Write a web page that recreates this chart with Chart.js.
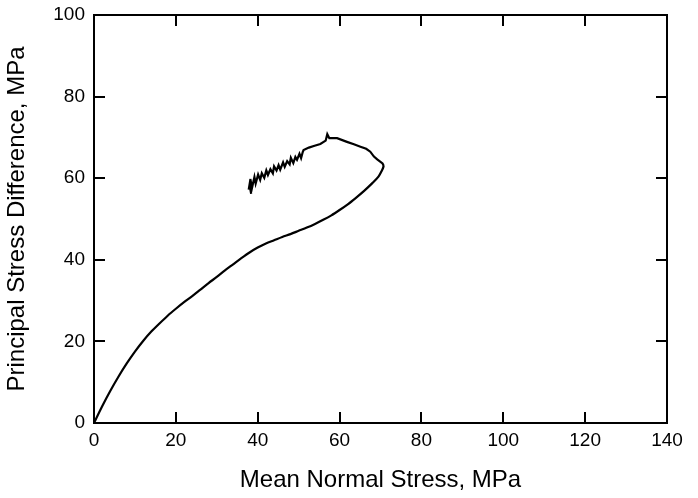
<!DOCTYPE html>
<html>
<head>
<meta charset="utf-8">
<script src="https://cdn.jsdelivr.net/npm/chart.js@4"></script>
<style>
  html, body { margin: 0; padding: 0; background: #fff; }
  #wrap { width: 698px; height: 498px; }
</style>
</head>
<body>
<div id="wrap"><canvas id="myChart" width="698" height="498"></canvas></div>
<script>
// Loading path: mean normal stress (MPa) and principal stress difference (MPa)
const loadStress = [
  0, 2, 4, 6, 8, 10, 12, 14, 16, 18, 20, 22, 24, 26, 28, 30, 32, 34, 36, 38, 40,
  42, 44, 46, 48, 50, 52, 54, 56, 58, 60, 62, 64, 66, 68, 69.5, 70.4, 70.8
];
const loadDiff = [
  0, 4.1, 7.9, 11.4, 14.6, 17.5, 20.1, 22.4, 24.4, 26.3, 28.0, 29.6, 31.1, 32.7, 34.3, 35.8,
  37.4, 38.9, 40.4, 41.8, 43.0, 44.0, 44.8, 45.6, 46.3, 47.1, 47.9, 48.8, 49.8, 50.9,
  52.2, 53.6, 55.2, 56.9, 58.8, 60.4, 62.0, 63.0
];
// Post-peak path (with the noisy tail)
const postStress = [
  70.8, 70.5, 70.0, 69.2, 68.4, 67.5, 66.5, 65.1, 63.5, 61.8, 59.4, 57.5, 57.0, 56.6,
  55.3, 53.7, 52.5, 51.2,
  51.0, 50.6, 50.2, 49.6, 49.2, 48.7, 48.1, 47.8, 47.2, 46.6, 46.2, 45.5, 45.1,
  44.6, 44.0, 43.7, 43.1, 42.5, 42.1, 41.6, 41.0, 40.6, 40.1, 39.5, 39.2, 38.6,
  38.2, 38.4, 38.0, 37.8
];
const postDiff = [
  63.0, 63.6, 64.0, 64.6, 65.3, 66.5, 67.2, 67.7, 68.3, 68.9, 69.8, 69.8, 70.8, 69.2,
  68.4, 67.9, 67.5, 66.9,
  66.4, 64.9, 66.0, 64.5, 65.2, 63.7, 65.0, 63.4, 64.2, 62.8, 63.9, 62.1, 63.2,
  61.9, 62.9, 61.2, 62.2, 60.8, 61.9, 60.1, 61.2, 59.6, 60.9, 58.7, 60.3, 57.6,
  59.8, 56.2, 58.4, 57.2
];
const xTicks = [0, 20, 40, 60, 80, 100, 120, 140];
const yTicks = [0, 20, 40, 60, 80, 100];

const loadPoints = loadStress.map((x, i) => ({ x: x, y: loadDiff[i] }));
const postPoints = postStress.map((x, i) => ({ x: x, y: postDiff[i] }));

// frame + inward ticks on all four sides
const frameTicks = {
  id: "frameTicks",
  afterDraw(chart) {
    const { ctx, chartArea: a, scales } = chart;
    const len = 11;
    ctx.save();
    ctx.strokeStyle = "#000";
    ctx.lineWidth = 2;
    ctx.strokeRect(a.left, a.top, a.right - a.left, a.bottom - a.top);
    ctx.beginPath();
    xTicks.forEach(v => {
      const px = Math.round(scales.x.getPixelForValue(v));
      ctx.moveTo(px, a.bottom); ctx.lineTo(px, a.bottom - len);
      ctx.moveTo(px, a.top); ctx.lineTo(px, a.top + len);
    });
    yTicks.forEach(v => {
      const py = Math.round(scales.y.getPixelForValue(v));
      ctx.moveTo(a.left, py); ctx.lineTo(a.left + len, py);
      ctx.moveTo(a.right, py); ctx.lineTo(a.right - len, py);
    });
    ctx.stroke();
    ctx.restore();
  }
};

const family = "'Liberation Sans', Arial, sans-serif";
const tickFont = { family: family, size: 19 };
const titleFont = { family: family, size: 24 };

new Chart(document.getElementById("myChart").getContext("2d"), {
  type: "scatter",
  data: {
    datasets: [{
      data: loadPoints,
      showLine: true,
      borderColor: "#000",
      borderWidth: 2.2,
      pointRadius: 0,
      tension: 0.3,
      fill: false
    }, {
      data: postPoints,
      showLine: true,
      borderColor: "#000",
      borderWidth: 2.2,
      pointRadius: 0,
      tension: 0,
      fill: false
    }]
  },
  options: {
    responsive: false,
    animation: false,
    layout: { padding: { top: 15, right: 31, left: 0, bottom: 0 } },
    plugins: { legend: { display: false }, tooltip: { enabled: false } },
    scales: {
      x: {
        type: "linear",
        min: 0, max: 140,
        afterBuildTicks: s => { s.ticks = xTicks.map(v => ({ value: v })); },
        afterFit: s => { s.height = 75; s.paddingLeft = 0; s.paddingRight = 0; },
        grid: { display: false, drawTicks: false },
        border: { display: false },
        ticks: { color: "#000", font: tickFont, padding: 6, maxRotation: 0 },
        title: {
          display: true, text: "Mean Normal Stress, MPa", color: "#000",
          font: titleFont, padding: { top: 4, bottom: 3 }
        }
      },
      y: {
        type: "linear",
        min: 0, max: 100,
        afterBuildTicks: s => { s.ticks = yTicks.map(v => ({ value: v })); },
        afterFit: s => { s.width = 94; s.paddingTop = 0; s.paddingBottom = 0; },
        grid: { display: false, drawTicks: false },
        border: { display: false },
        ticks: { color: "#000", font: tickFont, padding: 9 },
        title: {
          display: true, text: "Principal Stress Difference, MPa", color: "#000",
          font: titleFont, padding: { top: 3, bottom: 4 }
        }
      }
    }
  },
  plugins: [frameTicks]
});
</script>
</body>
</html>
